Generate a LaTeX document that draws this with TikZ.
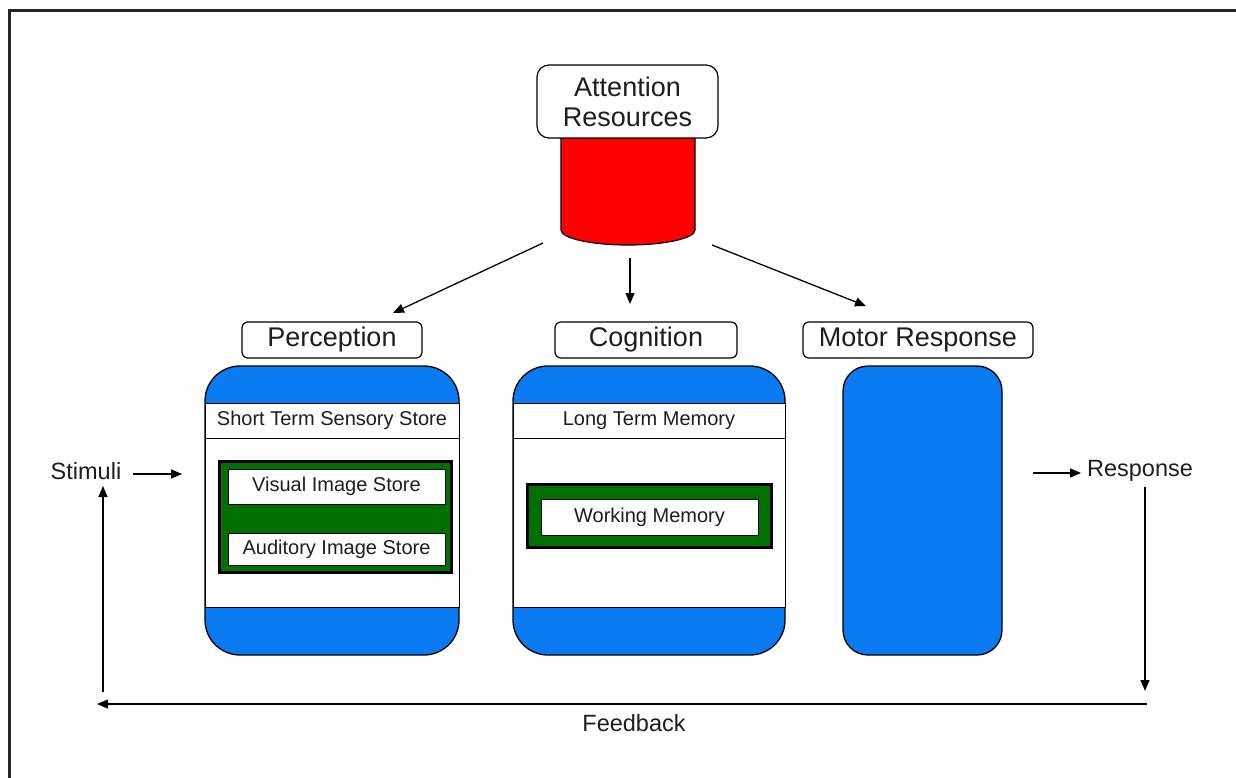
\documentclass[tikz,border=0pt]{standalone}
\usepackage{fontspec}
\setmainfont{Liberation Sans}
\usetikzlibrary{arrows.meta}
\definecolor{boxblue}{RGB}{10,122,240}
\definecolor{boxgreen}{RGB}{0,112,0}
\definecolor{txt}{RGB}{30,30,30}
\begin{document}
\begin{tikzpicture}[x=1pt,y=-1pt,
  every node/.style={inner sep=0pt, outer sep=0pt, text=txt},
  bigtext/.style={font=\fontsize{27}{30}\selectfont},
  smalltext/.style={font=\fontsize{20}{24}\selectfont},
  midtext/.style={font=\fontsize{23.5}{28}\selectfont},
  titlebox/.style={draw, line width=1.2pt, fill=white, rounded corners=6pt, bigtext},
  container/.style={draw, line width=1.3pt, fill=boxblue, rounded corners=35pt},
  band/.style={draw, line width=1pt, fill=white},
  greenbox/.style={draw, line width=3pt, fill=boxgreen},
  innerbox/.style={draw, line width=0.9pt, fill=white, smalltext},
  conn/.style={line width=1.3pt, -{Triangle[length=11pt,width=9pt]}},
  plain/.style={line width=1.3pt}
]
\useasboundingbox (0,0) rectangle (1236,778);
\fill[white] (0,0) rectangle (1236,778);
% frame
\draw[line width=3pt, black!85] (9,778) -- (9,11) -- (1236,11);

% attention cylinder
\draw[line width=1.2pt, fill=red] (561,130) -- (561,230)
  arc[start angle=180, end angle=0, x radius=67, y radius=15] -- (695,130) -- cycle;
\node[titlebox, rounded corners=12pt, minimum width=181pt, minimum height=73pt, align=center,
  font=\fontsize{27}{30}\selectfont] (att) at (627.5,101.5) {Attention\\Resources};

% labels
\node[titlebox, minimum width=180pt, minimum height=36pt] (lperc) at (332,340) {Perception};
\node[titlebox, minimum width=182pt, minimum height=36pt] (lcog) at (646,340) {Cognition};
\node[titlebox, minimum width=230pt, minimum height=36pt] (lmot) at (918,340) {Motor Response};

% perception container
\node[container, minimum width=254pt, minimum height=289pt] (perc) at (332,510.5) {};
\node[band, minimum width=254pt, minimum height=35pt, smalltext] (stss) at (332,420.5) {Short Term Sensory Store};
\node[band, minimum width=254pt, minimum height=169pt] (pwhite) at (332,522.5) {};
\node[greenbox, minimum width=232pt, minimum height=111pt] (pgreen) at (335,516.5) {};
\node[innerbox, minimum width=217pt, minimum height=35pt] (vis) at (336.5,486.5) {Visual Image Store};
\node[innerbox, minimum width=217pt, minimum height=32pt] (aud) at (336.5,549) {Auditory Image Store};

% cognition container
\node[container, minimum width=272pt, minimum height=289pt] (cog) at (649,510.5) {};
\node[band, minimum width=272pt, minimum height=35pt, smalltext] (ltm) at (649,420.5) {Long Term Memory};
\node[band, minimum width=272pt, minimum height=169pt] (cwhite) at (649,522.5) {};
\node[greenbox, minimum width=244pt, minimum height=63pt] (cgreen) at (649,515.5) {};
\node[innerbox, minimum width=217pt, minimum height=36pt] (wm) at (649.5,517) {Working Memory};

% motor container
\node[container, rounded corners=25pt, minimum width=159pt, minimum height=289pt] (mot) at (922.5,510.5) {};

% attention arrows
\coordinate (a1s) at (543,243);
\coordinate (a1e) at (393,313);
\coordinate (a2s) at (630,258);
\coordinate (a2e) at (630,304);
\coordinate (a3s) at (712,245);
\coordinate (a3e) at (866,306);
\draw[conn] (a1s) -- (a1e);
\draw[conn] (a2s) -- (a2e);
\draw[conn] (a3s) -- (a3e);

% stimuli / response
\node[midtext] (stim) at (86,471) {Stimuli};
\node[midtext] (resp) at (1140,471) {Response};
\node[midtext] (fb) at (634,723) {Feedback};
\coordinate (sa) at (133,474);
\coordinate (sb) at (182,474);
\draw[conn] (sa) -- (sb);
\coordinate (ra) at (1033,473);
\coordinate (rb) at (1081,473);
\draw[conn] (ra) -- (rb);
\coordinate (rd1) at (1145,487);
\coordinate (rd2) at (1145,691);
\draw[conn] (rd1) -- (rd2);
\coordinate (f1) at (1147,704);
\coordinate (f2) at (97,704);
\draw[conn] (f1) -- (f2);
\coordinate (u1) at (103,692);
\coordinate (u2) at (103,486);
\draw[conn] (u1) -- (u2);
\end{tikzpicture}
\end{document}
